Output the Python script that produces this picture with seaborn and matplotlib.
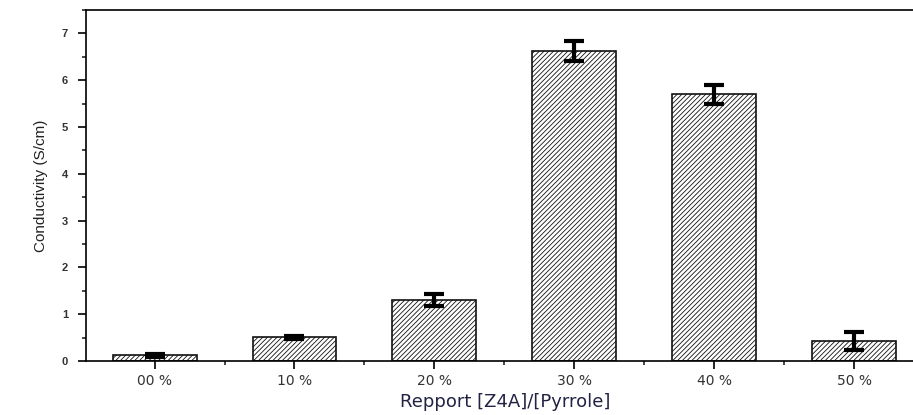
import matplotlib
matplotlib.use("Agg")
import matplotlib.pyplot as plt
import seaborn as sns
import numpy as np
from matplotlib.ticker import MultipleLocator

categories = ["00 %", "10 %", "20 %", "30 %", "40 %", "50 %"]
conductivity = [0.12, 0.51, 1.30, 6.62, 5.70, 0.43]
errors = [0.03, 0.03, 0.13, 0.22, 0.20, 0.20]

sns.set_style("ticks")
plt.rcParams['font.family'] = ['Liberation Sans', 'DejaVu Sans']
plt.rcParams['hatch.linewidth'] = 0.6

fig = plt.figure(figsize=(9.13, 4.15), dpi=100)
ax = fig.add_axes([0.0942, 0.1301, 0.918, 0.8458])

sns.barplot(x=categories, y=conductivity, color="white", edgecolor="#111111",
            linewidth=1.2, width=0.6, hatch="///////", ax=ax, errorbar=None)
ax.errorbar(np.arange(len(categories)), conductivity, yerr=errors, fmt="none",
            ecolor="black", elinewidth=3, capsize=7, capthick=3, zorder=5)

ax.set_xlim(-0.49, 5.5)
ax.set_ylim(0, 7.5)
ax.yaxis.set_major_locator(MultipleLocator(1))
ax.yaxis.set_minor_locator(MultipleLocator(0.5))
ax.set_xticks(np.arange(6))
ax.set_xticks(np.arange(6) + 0.5, minor=True)
ax.tick_params(axis="both", which="major", direction="out", length=6, width=1.2,
               labelsize=8, colors="black")
ax.tick_params(axis="both", which="minor", direction="out", length=3, width=1.2)
ax.set_xticklabels(categories, fontsize=10, color="#333333", family=['DejaVu Sans'])
for t in ax.get_yticklabels():
    t.set_color("#333333")
    t.set_fontweight("bold")
ax.tick_params(axis="y", pad=7)
ax.tick_params(axis="x", pad=3)

for s in ["left", "bottom", "top"]:
    ax.spines[s].set_linewidth(1.2)
    ax.spines[s].set_color("black")
ax.spines["right"].set_visible(False)

ax.set_ylabel("Conductivity (S/cm)", fontsize=11, color="#222222", labelpad=10)
ax.set_xlabel("Repport [Z4A]/[Pyrrole]", fontsize=13, color="#222244", labelpad=4,
              family=['DejaVu Sans'])

fig.savefig("out.png", dpi=100)
